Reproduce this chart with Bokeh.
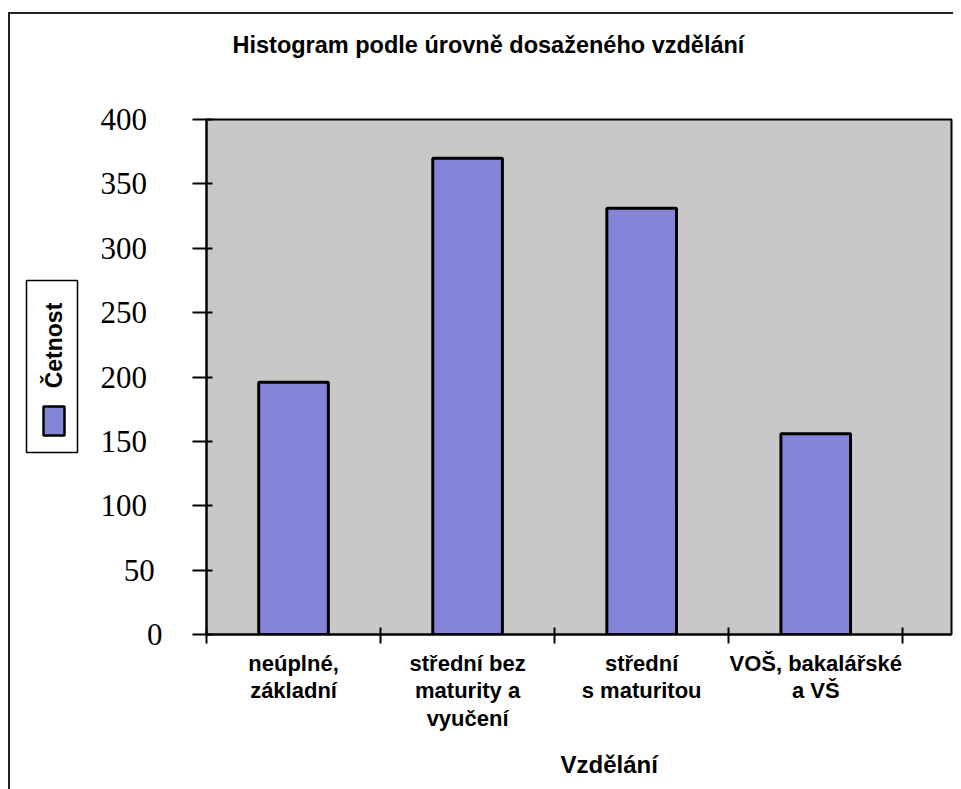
import math
from bokeh.plotting import figure
from bokeh.models import Range1d, FixedTicker, Title, ColumnDataSource
from bokeh.layouts import row
from bokeh.embed import file_html
from bokeh.resources import INLINE
from bokeh.core.properties import value

# ---- data ----
categories = ["neúplné,\nzákladní", "střední bez\nmaturity a\nvyučení",
              "střední\ns maturitou", "VOŠ, bakalářské\na VŠ"]
counts = [196, 370, 331, 156]
y_ticks = [0, 50, 100, 150, 200, 250, 300, 350, 400]
series_name = "Četnost"
chart_title = "Histogram podle úrovně dosaženého vzdělání"
x_title = "Vzdělání"

positions = [i + 0.5 for i in range(len(categories))]
boundaries = list(range(len(categories) + 1))

BAR = "#8484D8"
BG = "#C8C8C8"
BOLD_FONT = "Liberation Sans"

TOP, FRAME_H, BOTTOM = 105, 515, 147

src = ColumnDataSource(dict(x=positions, count=counts))

p = figure(frame_width=745, frame_height=FRAME_H,
           min_border_left=116, min_border_right=2,
           min_border_top=TOP, min_border_bottom=BOTTOM,
           x_range=Range1d(0, 4.28), y_range=Range1d(y_ticks[0], y_ticks[-1]),
           output_backend="svg", toolbar_location=None,
           background_fill_color=BG, border_fill_color="white")
p.grid.visible = False
p.outline_line_color = "black"
p.outline_line_width = 2

p.vbar(x="x", top="count", bottom=0, width=0.4, source=src,
       fill_color=BAR, line_color="black", line_width=3)

# y axis
ya = p.yaxis[0]
ya.ticker = FixedTicker(ticks=y_ticks)
# the original's short labels sit further right than the 3-digit ones
ya.major_label_overrides = {t: str(t) + "\u00a0" * (len(str(t)) - 1) for t in y_ticks}
ya.axis_line_color = "black"
ya.axis_line_width = 2
ya.major_tick_line_color = "black"
ya.major_tick_line_width = 2
ya.major_tick_out = 14
ya.major_tick_in = 6
ya.minor_tick_line_color = None
ya.major_label_standoff = 30
ya.major_label_text_font = "Liberation Serif"
ya.major_label_text_font_size = "31px"
ya.major_label_text_color = "black"

# x axis
xa = p.xaxis[0]
xa.ticker = FixedTicker(ticks=positions, minor_ticks=boundaries)
xa.major_label_overrides = {pos: lab for pos, lab in zip(positions, categories)}
xa.axis_line_color = "black"
xa.axis_line_width = 2
xa.major_tick_line_color = None
xa.major_tick_out = 0
xa.major_tick_in = 0
xa.minor_tick_line_color = "black"
xa.minor_tick_line_width = 2
xa.minor_tick_out = 9
xa.minor_tick_in = 7
xa.major_label_standoff = 7
xa.major_label_text_font = BOLD_FONT
xa.major_label_text_font_style = "bold"
xa.major_label_text_font_size = "22px"
xa.major_label_text_line_height = 1.1
xa.major_label_text_color = "black"

# titles
p.title.text = chart_title
p.title.align = "left"
p.title.offset = 26
p.title.text_font = BOLD_FONT
p.title.text_font_style = "bold"
p.title.text_font_size = "23.5px"
p.title.text_color = "black"
p.title.standoff = 10
# spacer between the frame and the chart title
p.add_layout(Title(text=" ", text_font_size="1px", standoff=54), "above")

p.add_layout(Title(text=x_title, align="left", offset=354, text_font=BOLD_FONT,
                   text_font_style="bold", text_font_size="24px", text_color="black",
                   standoff=30), "below")

# legend panel (same vertical borders so frames align; y in pixels from frame bottom)
lg = figure(frame_width=80, frame_height=FRAME_H,
            min_border_left=0, min_border_right=0,
            min_border_top=TOP, min_border_bottom=BOTTOM,
            x_range=Range1d(0, 80), y_range=Range1d(0, FRAME_H),
            x_axis_type=None, y_axis_type=None,
            output_backend="svg", toolbar_location=None,
            background_fill_color="white", border_fill_color="white")
lg.outline_line_color = None
lg.quad(left=[16], right=[67], bottom=[182], top=[354],
        fill_color="white", line_color="black", line_width=1.5)
lg.rect(x=[43.5], y=[213.5], width=21, height=29,
        fill_color=BAR, line_color="black", line_width=2.5)
lg.text(x=[43], y=[289], text=[series_name], angle=math.pi / 2,
        text_align="center", text_baseline="middle",
        text_font=value(BOLD_FONT), text_font_style="bold", text_font_size="23px",
        text_color="black")

layout = row(lg, p)
layout.styles = {"border-left": "2px solid #222", "border-top": "2px solid #222",
                 "margin-top": "12px", "margin-left": "8px"}

open("out.html", "w").write(file_html(layout, INLINE))
